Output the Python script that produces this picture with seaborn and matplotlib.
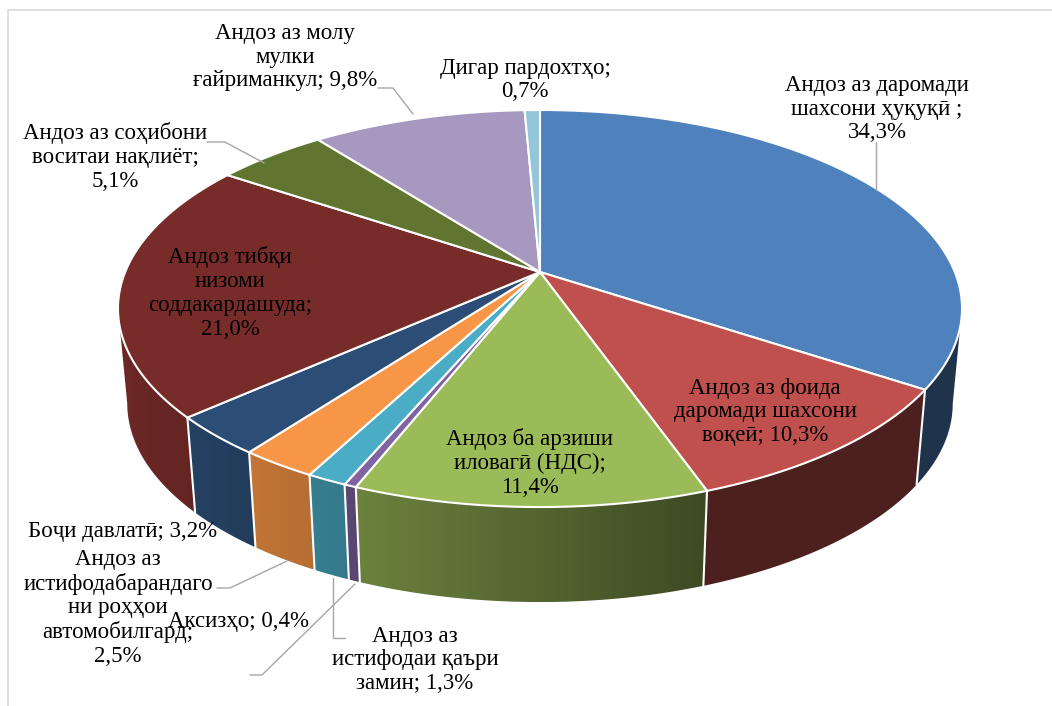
import numpy as np
import matplotlib
matplotlib.use("Agg")
import matplotlib.pyplot as plt
import matplotlib.colors as mcolors
from matplotlib.patches import Polygon
import seaborn as sns

# shares in %, clockwise from 12 o'clock
shares = [34.3, 10.3, 11.4, 0.4, 1.3, 2.5, 3.2, 21.0, 5.1, 9.8, 0.7]
labels = [
    "Андоз аз даромади\nшахсони ҳуқуқӣ ;\n34,3%",
    "Андоз аз фоида\nдаромади шахсони\nвоқеӣ; 10,3%",
    "Андоз ба арзиши\nиловагӣ (НДС);\n11,4%",
    "Аксизҳо; 0,4%",
    "Андоз аз\nистифодаи қаъри\nзамин; 1,3%",
    "Андоз аз\nистифодабарандаго\nни роҳҳои\nавтомобилгард;\n2,5%",
    "Боҷи давлатӣ; 3,2%",
    "Андоз тибқи\nнизоми\nсоддакардашуда;\n21,0%",
    "Андоз аз соҳибони\nвоситаи нақлиёт;\n5,1%",
    "Андоз аз молу\nмулки\nғайриманкул; 9,8%",
    "Дигар пардохтҳо;\n0,7%",
]
top_colors = ["#4F81BD", "#C0504D", "#9BBB59", "#8064A2", "#4BACC6", "#F79646",
              "#2C4D75", "#772C2A", "#5F7530", "#A698BE", "#93C6D9"]

# label anchor (pixel centre) and leader lines (pixel points)
label_pos = [(877, 109), (765, 412), (530, 463), (238, 622), (415, 660), (118, 608),
             (123, 531), (230, 293), (115, 157), (285, 57), (525, 80)]
leaders = {
    0: [(876, 142), (876, 190)],
    3: [(250, 675), (262, 675), (355, 584)],
    4: [(345, 638), (333, 638), (333, 578)],
    5: [(217, 588), (230, 588), (287, 561)],
    8: [(207, 142), (225, 142), (264, 163)],
    9: [(378, 88), (393, 88), (413, 114)],
}

W, H = 1052, 706
X0, Y0 = 540, 272          # pie centre on screen
RX, RY, DEPTH = 414.8, 191.8, 95
PERSP = 0.184              # far edge appears smaller
SHRINK = 0.978             # bottom rim is a bit narrower


def project(deg, bottom=False):
    t = np.radians(deg)
    u, v = np.cos(t), np.sin(t)
    k = 1 + PERSP * v
    x = X0 + RX * u / k
    y = Y0 - RY * v / k
    if bottom:
        x = X0 + (x - X0) * SHRINK
        y = y + DEPTH
    return x, y


def shade(color, xs):
    f = np.interp(xs, [117, 700, 962], [0.9, 0.4, 0.4])
    return np.array(mcolors.to_rgb(color))[None, :] * f[:, None]


sns.set_theme(style="white")
plt.rcParams["font.family"] = ["Liberation Serif", "DejaVu Serif"]

fig = plt.figure(figsize=(W / 100, H / 100), dpi=100)
ax = fig.add_axes([0, 0, 1, 1])

bounds = 90 - 3.6 * np.concatenate([[0], np.cumsum(shares)])

# side walls (visible between the two silhouette points), shaded left to right
lim = np.degrees(np.arcsin(PERSP))
for i in range(len(shares)):
    a, b = max(bounds[i + 1], -180 + lim), min(bounds[i], -lim)
    if a >= b:
        continue
    t = np.linspace(a, b, 100)
    xt, yt = project(t)
    xb, yb = project(t, bottom=True)
    poly = Polygon(np.c_[np.r_[xt, xb[::-1]], np.r_[yt, yb[::-1]]], closed=True,
                   facecolor="none", edgecolor="none")
    ax.add_patch(poly)
    x_lo, x_hi = min(xt.min(), xb.min()), max(xt.max(), xb.max())
    grad = shade(top_colors[i], np.linspace(x_lo, x_hi, 200))[None, :, :]
    im = ax.imshow(grad, extent=[x_lo, x_hi, max(yb.max(), yt.max()), min(yt.min(), yb.min())],
                   aspect="auto", interpolation="bilinear", zorder=1)
    im.set_clip_path(poly)
for th in bounds:
    if -180 + lim < th < -lim:
        xt, yt = project(th)
        xb, yb = project(th, bottom=True)
        ax.plot([xt, xb], [yt, yb], color="white", lw=1.5, zorder=2)

# top face
for i in range(len(shares)):
    t = np.linspace(bounds[i], bounds[i + 1], 120)
    xs, ys = project(t)
    ax.fill(np.r_[X0, xs], np.r_[Y0, ys], facecolor=top_colors[i],
            edgecolor="white", lw=1.5, zorder=3)

for i, lab in enumerate(labels):
    ax.text(*label_pos[i], lab, ha="center", va="center", fontsize=16.5,
            linespacing=1.17, color="black", zorder=5)

for pts in leaders.values():
    xs, ys = zip(*pts)
    ax.plot(xs, ys, color="#A6A6A6", lw=1, zorder=4)

# chart border
ax.plot([8, 8], [H, 10], color="#D9D9D9", lw=1.2)
ax.plot([8, W], [10, 10], color="#D9D9D9", lw=1.2)

ax.set_xlim(0, W)
ax.set_ylim(H, 0)
ax.axis("off")

fig.savefig("out.png", dpi=100)
